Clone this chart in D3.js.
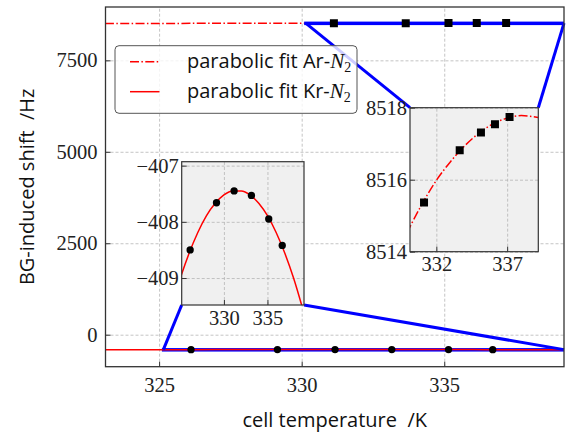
<!DOCTYPE html>
<html>
<head>
<meta charset="utf-8">
<script src="https://cdn.jsdelivr.net/npm/d3@7"></script>
<style>
  body { margin: 0; background: #fff; }
  .tick text { font-family: "Liberation Serif", serif; font-size: 20.5px; fill: #222; }
  .tick line { stroke: #333; }
  .grid line { stroke: #b5b5b5; stroke-width: 0.8; stroke-dasharray: 3,2; }
  .grid .domain { display: none; }
  .label { font-family: "Open Sans", sans-serif; font-size: 20px; fill: #111; }
</style>
</head>
<body>
<svg id="chart" width="573" height="434"></svg>
<script>
// data
var arTemps = [331.13, 333.65, 335.15, 336.14, 337.17];
var arShift = [8515.37, 8516.82, 8517.31, 8517.54, 8517.74];
var krTemps = [326.12, 329.15, 331.17, 333.16, 335.15, 336.70];
var krShift = [-408.50, -407.66, -407.45, -407.53, -407.95, -408.42];

// fitted curves
var arFitT = [323.1, 330.14, 331, 332, 333, 334, 335, 336, 337, 338, 339.2];
var arFitShift = [8506.9, 8514.69, 8515.33, 8515.98, 8516.50, 8516.94, 8517.29, 8517.55, 8517.71, 8517.78, 8517.73];
var krFitT = [323.1, 325.15, 326, 327, 328, 329, 330, 331, 332, 333, 334, 335, 336, 337, 338, 339, 339.2];
var krFitShift = [-410.05, -408.93, -408.56, -408.19, -407.89, -407.67, -407.52, -407.45, -407.45, -407.52, -407.67, -407.89, -408.19, -408.56, -409.00, -409.52, -409.63];

var xTicks = [325, 330, 335];
var yTicks = [0, 2500, 5000, 7500];
var arInsetXTicks = [332, 337];
var arInsetYTicks = [8514, 8516, 8518];
var krInsetXTicks = [330, 335];
var krInsetYTicks = [-409, -408, -407];
var legendLabels = ["Ar", "Kr"];

var svg = d3.select('#chart');
var BLUE = '#0000ff', RED = '#ff0000';

var frame = {left: 105.5, right: 564, top: 7, bottom: 366.7};
var x = d3.scaleLinear().domain([323.12, 339.2]).range([frame.left, frame.right]);
var y = d3.scaleLinear().domain([-875, 8958]).range([frame.bottom, frame.top]);

svg.append('clipPath').attr('id', 'clip-main')
    .append('rect')
    .attr('x', frame.left).attr('y', frame.top)
    .attr('width', frame.right - frame.left).attr('height', frame.bottom - frame.top);

// grid
svg.append('g').attr('class', 'grid')
    .attr('transform', `translate(0,${frame.bottom})`)
    .call(d3.axisBottom(x).tickValues(xTicks).tickSize(-(frame.bottom - frame.top)).tickFormat(''));
svg.append('g').attr('class', 'grid')
    .attr('transform', `translate(${frame.left},0)`)
    .call(d3.axisLeft(y).tickValues(yTicks).tickSize(-(frame.right - frame.left)).tickFormat(''));

var plot = svg.append('g').attr('clip-path', 'url(#clip-main)');

var arLine = d3.line().curve(d3.curveMonotoneX);
var arPts = arFitT.map((t, i) => [t, arFitShift[i]]);
var krPts = krFitT.map((t, i) => [t, krFitShift[i]]);

// Ar fit below the blue box
plot.append('path')
    .attr('d', arLine(arPts.map((d) => [x(d[0]), y(d[1])])))
    .attr('fill', 'none').attr('stroke', RED).attr('stroke-width', 1.5)
    .attr('stroke-dasharray', '9,2.4,1.5,2.4');

// inset boxes (px) and their data windows
var arBox = {left: 410, right: 538.3, top: 107.7, bottom: 251.7, xd: [330.14, 339.2], yd: [8514, 8518]};
var krBox = {left: 181.7, right: 304, top: 161.7, bottom: 305, xd: [325.15, 339.2], yd: [-409.48, -406.93]};

function markInset(b, corners) {
    var x0 = x(b.xd[0]), x1 = x(b.xd[1]), y0 = y(b.yd[1]), y1 = y(b.yd[0]);
    plot.append('rect')
        .attr('x', x0).attr('y', y0).attr('width', x1 - x0).attr('height', Math.max(y1 - y0, 0.5))
        .attr('fill', 'none').attr('stroke', BLUE).attr('stroke-width', 3);
    var ym = (y0 + y1) / 2;
    corners.forEach(function (c) {
        svg.append('line')
            .attr('x1', c[0] === 'l' ? x0 : x1).attr('y1', ym)
            .attr('x2', c[0] === 'l' ? b.left : b.right).attr('y2', c[1] === 't' ? b.top : b.bottom)
            .attr('stroke', BLUE).attr('stroke-width', 3);
    });
}
markInset(arBox, ['lt', 'rt']);
markInset(krBox, ['lb', 'rb']);

// Kr fit on top of the blue box
plot.append('path')
    .attr('d', arLine(krPts.map((d) => [x(d[0]), y(d[1])])))
    .attr('fill', 'none').attr('stroke', RED).attr('stroke-width', 1.5);

plot.selectAll('.ar-main')
    .data(arTemps).enter().append('path')
    .attr('transform', (d, i) => `translate(${x(d)},${y(arShift[i])})`)
    .attr('d', d3.symbol(d3.symbolSquare, 64));
plot.selectAll('.kr-main')
    .data(krTemps).enter().append('path')
    .attr('transform', (d, i) => `translate(${x(d)},${y(krShift[i])})`)
    .attr('d', d3.symbol(d3.symbolCircle, 42));

// axes with inward ticks
var xAxis = svg.append('g').attr('transform', `translate(0,${frame.bottom})`)
    .call(d3.axisBottom(x).tickValues(xTicks).tickSize(-5).tickPadding(11).tickFormat(d3.format('d')));
xAxis.select('.domain').remove();
var yAxis = svg.append('g').attr('transform', `translate(${frame.left},0)`)
    .call(d3.axisLeft(y).tickValues(yTicks).tickSize(-5).tickPadding(8).tickFormat(d3.format('d')));
yAxis.select('.domain').remove();

svg.append('rect')
    .attr('x', frame.left).attr('y', frame.top)
    .attr('width', frame.right - frame.left).attr('height', frame.bottom - frame.top)
    .attr('fill', 'none').attr('stroke', '#333').attr('stroke-width', 1.3);

svg.append('text').attr('class', 'label')
    .attr('x', (frame.left + frame.right) / 2).attr('y', 427)
    .attr('text-anchor', 'middle')
    .attr('xml:space', 'preserve')
    .text('cell temperature  /K');
svg.append('text').attr('class', 'label')
    .attr('transform', `translate(34,${(frame.top + frame.bottom) / 2})rotate(-90)`)
    .attr('text-anchor', 'middle')
    .attr('xml:space', 'preserve')
    .text('BG-induced shift  /Hz');

// legend
var legend = svg.append('g');
legend.append('rect')
    .attr('x', 115).attr('y', 45.7).attr('width', 242).attr('height', 67.6).attr('rx', 4)
    .attr('fill', 'white').attr('fill-opacity', 0.8)
    .attr('stroke', '#555').attr('stroke-width', 1);
legendLabels.forEach(function (gas, i) {
    var ly = 61.7 + i * 30;
    legend.append('line')
        .attr('x1', 130).attr('x2', 159.5).attr('y1', ly).attr('y2', ly)
        .attr('stroke', RED).attr('stroke-width', 1.5)
        .attr('stroke-dasharray', i === 0 ? '9,2.4,1.5,2.4' : null);
    var t = legend.append('text').attr('class', 'label')
        .attr('x', 187).attr('y', ly + 6.5);
    t.append('tspan').text(`parabolic fit ${gas}-`);
    t.append('tspan').attr('font-family', 'Liberation Serif, serif').attr('font-style', 'italic')
        .attr('font-size', 21).text('N');
    t.append('tspan').attr('font-family', 'Liberation Serif, serif')
        .attr('font-size', 14).attr('dy', 4).text('2');
});

// insets
function drawInset(b, id, xt, yt, temps, shifts, pts, dashed, square) {
    var ix = d3.scaleLinear().domain(b.xd).range([b.left, b.right]);
    var iy = d3.scaleLinear().domain(b.yd).range([b.bottom, b.top]);
    var w = b.right - b.left, h = b.bottom - b.top;
    var g = svg.append('g');
    g.append('clipPath').attr('id', id)
        .append('rect').attr('x', b.left).attr('y', b.top).attr('width', w).attr('height', h);
    g.append('rect').attr('x', b.left).attr('y', b.top).attr('width', w).attr('height', h)
        .attr('fill', '#f0f0f0');
    g.append('g').attr('class', 'grid').attr('transform', `translate(0,${b.bottom})`)
        .call(d3.axisBottom(ix).tickValues(xt).tickSize(-h).tickFormat(''));
    g.append('g').attr('class', 'grid').attr('transform', `translate(${b.left},0)`)
        .call(d3.axisLeft(iy).tickValues(yt).tickSize(-w).tickFormat(''));
    var inner = g.append('g').attr('clip-path', `url(#${id})`);
    inner.append('path')
        .attr('d', arLine(pts.map((d) => [ix(d[0]), iy(d[1])])))
        .attr('fill', 'none').attr('stroke', RED).attr('stroke-width', 1.5)
        .attr('stroke-dasharray', dashed ? '9,2.4,1.5,2.4' : null);
    inner.selectAll('.pt')
        .data(temps).enter().append('path')
        .attr('transform', (d, i) => `translate(${ix(d)},${iy(shifts[i])})`)
        .attr('d', d3.symbol(square ? d3.symbolSquare : d3.symbolCircle, square ? 64 : 42));
    var ax = g.append('g').attr('transform', `translate(0,${b.bottom})`)
        .call(d3.axisBottom(ix).tickValues(xt).tickSize(-5).tickPadding(5).tickFormat(d3.format('d')));
    ax.select('.domain').remove();
    var ay = g.append('g').attr('transform', `translate(${b.left},0)`)
        .call(d3.axisLeft(iy).tickValues(yt).tickSize(-5).tickPadding(3).tickFormat(d3.format('d')));
    ay.select('.domain').remove();
    g.append('rect').attr('x', b.left).attr('y', b.top).attr('width', w).attr('height', h)
        .attr('fill', 'none').attr('stroke', '#333').attr('stroke-width', 1.2);
}
drawInset(krBox, 'clip-kr', krInsetXTicks, krInsetYTicks, krTemps, krShift, krPts, false, false);
drawInset(arBox, 'clip-ar', arInsetXTicks, arInsetYTicks, arTemps, arShift, arPts, true, true);
</script>
</body>
</html>
